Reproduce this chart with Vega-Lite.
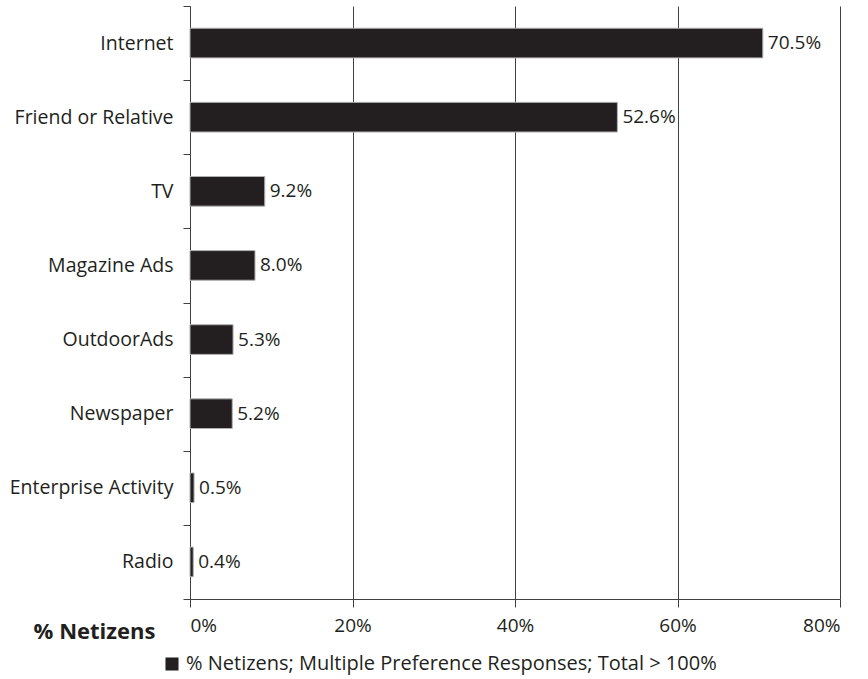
{
  "$schema": "https://vega.github.io/schema/vega-lite/v6.json",
  "width": 650,
  "height": 593,
  "autosize": "none",
  "padding": {"left": 190, "top": 6, "right": 28, "bottom": 80},
  "background": "white",
  "config": {
    "view": {"stroke": null},
    "font": "Open Sans",
    "axis": {"labelFont": "Open Sans", "titleFont": "Open Sans"},
    "legend": {"labelFont": "Open Sans"}
  },
  "data": {
    "values": [
      {"source": "Internet", "pct": 70.5, "series": "% Netizens; Multiple Preference Responses; Total > 100%"},
      {"source": "Friend or Relative", "pct": 52.6, "series": "% Netizens; Multiple Preference Responses; Total > 100%"},
      {"source": "TV", "pct": 9.2, "series": "% Netizens; Multiple Preference Responses; Total > 100%"},
      {"source": "Magazine Ads", "pct": 8.0, "series": "% Netizens; Multiple Preference Responses; Total > 100%"},
      {"source": "OutdoorAds", "pct": 5.3, "series": "% Netizens; Multiple Preference Responses; Total > 100%"},
      {"source": "Newspaper", "pct": 5.2, "series": "% Netizens; Multiple Preference Responses; Total > 100%"},
      {"source": "Enterprise Activity", "pct": 0.5, "series": "% Netizens; Multiple Preference Responses; Total > 100%"},
      {"source": "Radio", "pct": 0.4, "series": "% Netizens; Multiple Preference Responses; Total > 100%"}
    ]
  },
  "encoding": {
    "y": {
      "field": "source",
      "type": "nominal",
      "sort": null,
      "scale": {"paddingInner": 0, "paddingOuter": 0},
      "axis": {
        "title": null,
        "tickBand": "extent",
        "tickSize": 7,
        "tickColor": "#404040",
        "domainColor": "#404040",
        "labelFontSize": 19.5,
        "labelColor": "#231f20",
        "labelPadding": 10,
        "labelLimit": 300,
        "grid": false
      }
    },
    "x": {
      "field": "pct",
      "type": "quantitative",
      "scale": {"domain": [0, 80], "nice": false},
      "axis": {
        "values": [0, 20, 40, 60, 80],
        "labelExpr": "datum.value + '%'",
        "labelFontSize": 19,
        "labelColor": "#231f20",
        "labelPadding": 9,
        "tickSize": 8,
        "tickColor": "#404040",
        "domainColor": "#404040",
        "grid": true,
        "gridColor": "#404040",
        "gridOpacity": 1,
        "title": "% Netizens",
        "titleFontSize": 22,
        "titleFontWeight": "bold",
        "titleColor": "#231f20",
        "titleAnchor": null,
        "titleAlign": "center",
        "titleBaseline": "middle",
        "titleX": -96,
        "titleY": 32
      }
    }
  },
  "layer": [
    {
      "mark": {"type": "bar", "color": "#231f20", "stroke": "#b0b0b0", "strokeWidth": 1, "height": {"band": 0.4}},
      "encoding": {
        "color": {
          "field": "series",
          "type": "nominal",
          "scale": {"range": ["#231f20"]},
          "legend": {
            "title": null,
            "orient": "none",
            "legendX": -28,
            "legendY": 648,
            "symbolType": "square",
            "symbolSize": 170,
            "symbolStrokeWidth": 0,
            "labelFontSize": 20,
            "labelColor": "#231f20",
            "labelLimit": 700
          }
        }
      }
    },
    {
      "mark": {"type": "text", "align": "left", "baseline": "middle", "dx": 5, "fontSize": 19, "color": "#231f20", "font": "Open Sans", "text": {"expr": "format(datum.pct, '.1f') + '%'"}},
      "encoding": {
        "detail": {"field": "pct"}
      }
    }
  ]
}
